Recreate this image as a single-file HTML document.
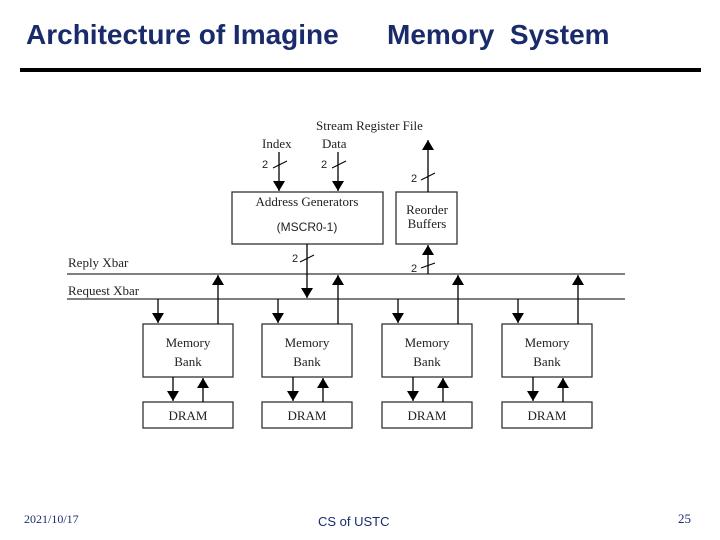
<!DOCTYPE html>
<html><head><style>
body{margin:0;width:720px;height:540px;background:#fff;overflow:hidden;position:relative;font-family:"Liberation Sans",sans-serif}
.t{position:absolute;font-weight:bold;color:#1a2b6b;font-size:28px}
</style></head><body>
<div class="t" style="left:26px;top:19px;">Architecture of Imagine</div>
<div class="t" style="left:387px;top:19px;">Memory&nbsp; System</div>
<div style="position:absolute;left:20px;top:68px;width:681px;height:4px;background:#000"></div>
<svg width="720" height="540" style="position:absolute;left:0;top:0" font-family="Liberation Serif,serif" font-size="13">
<defs>
<marker id="b" viewBox="0 0 10 12" markerWidth="10" markerHeight="14" refX="10" refY="6" orient="auto" markerUnits="userSpaceOnUse"><path d="M0,0 L10,6 L0,12z" fill="#000"/></marker></defs>
<g stroke="#333" stroke-width="1.3" fill="none">
<line x1="67" y1="274" x2="625" y2="274"/><line x1="67" y1="299" x2="625" y2="299"/>
<rect x="232" y="192" width="151" height="52"/><rect x="396" y="192" width="61" height="52"/>
<rect x="143" y="324" width="90" height="53"/><rect x="262" y="324" width="90" height="53"/><rect x="382" y="324" width="90" height="53"/><rect x="502" y="324" width="90" height="53"/>
<rect x="143" y="402" width="90" height="26"/><rect x="262" y="402" width="90" height="26"/><rect x="382" y="402" width="90" height="26"/><rect x="502" y="402" width="90" height="26"/>
</g>
<g stroke="#000" stroke-width="1.3" marker-end="url(#b)">
<line x1="279" y1="152" x2="279" y2="191"/><line x1="338" y1="152" x2="338" y2="191"/>
<line x1="428" y1="192" x2="428" y2="140"/><line x1="428" y1="274" x2="428" y2="245"/>
<line x1="307" y1="244" x2="307" y2="298"/>
<line x1="158" y1="299" x2="158" y2="323"/><line x1="278" y1="299" x2="278" y2="323"/><line x1="398" y1="299" x2="398" y2="323"/><line x1="518" y1="299" x2="518" y2="323"/>
<line x1="218" y1="324" x2="218" y2="275"/><line x1="338" y1="324" x2="338" y2="275"/><line x1="458" y1="324" x2="458" y2="275"/><line x1="578" y1="324" x2="578" y2="275"/>
<line x1="173" y1="377" x2="173" y2="401"/><line x1="293" y1="377" x2="293" y2="401"/><line x1="413" y1="377" x2="413" y2="401"/><line x1="533" y1="377" x2="533" y2="401"/>
<line x1="203" y1="402" x2="203" y2="378"/><line x1="323" y1="402" x2="323" y2="378"/><line x1="443" y1="402" x2="443" y2="378"/><line x1="563" y1="402" x2="563" y2="378"/>
</g>
<g stroke="#000" stroke-width="1">
<line x1="273" y1="168" x2="287" y2="161"/><line x1="332" y1="168" x2="346" y2="161"/><line x1="421" y1="180" x2="435" y2="173"/><line x1="300" y1="262" x2="314" y2="255"/><line x1="421" y1="268" x2="435" y2="263"/>
</g>
<g fill="#222">
<text x="316" y="130">Stream Register File</text>
<text x="262" y="148">Index</text><text x="322" y="148">Data</text>
<text x="262" y="168" font-family="Liberation Sans" font-size="11">2</text><text x="321" y="168" font-family="Liberation Sans" font-size="11">2</text>
<text x="411" y="182" font-family="Liberation Sans" font-size="11">2</text><text x="292" y="262" font-family="Liberation Sans" font-size="11">2</text><text x="411" y="272" font-family="Liberation Sans" font-size="11">2</text>
<text x="307" y="206" text-anchor="middle">Address Generators</text>
<text x="307" y="231" text-anchor="middle" font-family="Liberation Sans" font-size="12">(MSCR0-1)</text>
<text x="427" y="214" text-anchor="middle">Reorder</text><text x="427" y="228" text-anchor="middle">Buffers</text>
<text x="68" y="267">Reply Xbar</text><text x="68" y="295">Request Xbar</text>
<g text-anchor="middle">
<text x="188" y="347">Memory</text><text x="188" y="366">Bank</text><text x="188" y="420">DRAM</text>
<text x="307" y="347">Memory</text><text x="307" y="366">Bank</text><text x="307" y="420">DRAM</text>
<text x="427" y="347">Memory</text><text x="427" y="366">Bank</text><text x="427" y="420">DRAM</text>
<text x="547" y="347">Memory</text><text x="547" y="366">Bank</text><text x="547" y="420">DRAM</text>
</g></g>
<text x="24" y="523" font-size="12" fill="#1a2b6b">2021/10/17</text>
<text x="318" y="526" font-family="Liberation Sans" font-size="13" fill="#1a2b6b">CS of USTC</text>
<text x="678" y="523" font-size="13" fill="#1a2b6b">25</text>
</svg>
</body></html>
